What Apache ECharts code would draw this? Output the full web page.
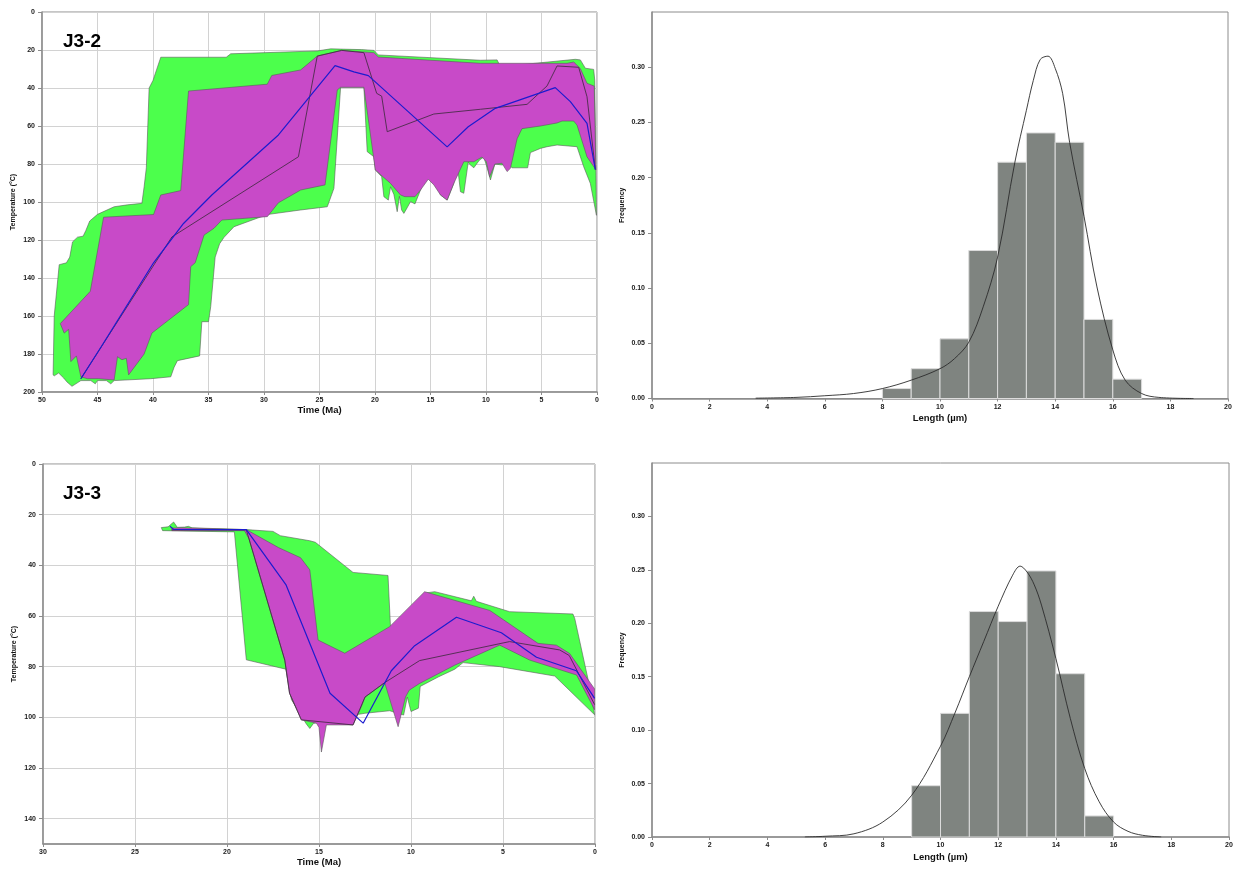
<!DOCTYPE html>
<html>
<head>
<meta charset="utf-8">
<title>Thermal history models and track length distributions</title>
<script src="https://cdn.jsdelivr.net/npm/echarts@6/dist/echarts.min.js"></script>
<style>
  html, body { margin: 0; padding: 0; background: #ffffff; }
  #chart { width: 1238px; height: 870px; }
</style>
</head>
<body>
<div id="chart"></div>
<script>
// ---------- Sample J3-2: time-temperature envelopes [time (Ma), temperature (°C)] ----------
const j32Acceptable = [
  [49.0, 191], [48.9, 160], [48.45, 133], [47.8, 132], [47.5, 129], [47.25, 121], [46.8, 118.5],
  [46.3, 118], [46.05, 115], [45.7, 110], [45.0, 106.5], [43.5, 102.5], [42.3, 101.5], [41.0, 100.7],
  [40.8, 92], [40.6, 82], [40.35, 40], [40.0, 36], [39.3, 23.8], [33.4, 23.8], [33.0, 22],
  [25.2, 20.5], [24.0, 19.4], [21.2, 19.8], [20.1, 20.2], [19.7, 22.6], [10.5, 25.4], [9.0, 25.2],
  [8.7, 28.8], [1.95, 24.9], [1.5, 25.2], [1.05, 29.6], [0.3, 30.2], [0.2, 36], [0.05, 107],
  [0.6, 90.2], [1.2, 81.4], [1.8, 70.9], [3.6, 70], [4.5, 70.9], [5.1, 71.8], [6.0, 74], [6.25, 82],
  [7.66, 82], [8.0, 80], [8.6, 80.5], [9.2, 80], [9.6, 88.4], [9.9, 82], [10.2, 76.3], [10.6, 78],
  [11.1, 82], [11.5, 80], [11.6, 79], [12.0, 95.4], [12.3, 94.6], [12.6, 79.6], [12.9, 90.2],
  [13.5, 99], [14.1, 96.3], [14.3, 90.2], [14.6, 76.2], [15.2, 76.2], [15.4, 86], [15.9, 93.7],
  [16.4, 101], [16.8, 99.8], [17.1, 103], [17.4, 106], [17.6, 104.2], [17.8, 97], [18.0, 105.1],
  [18.3, 96], [18.6, 92], [18.8, 99], [19.2, 97.2], [19.4, 86.7], [19.97, 83], [20.1, 76.2],
  [20.7, 73.5], [21.0, 39.6], [23.1, 39.6], [23.7, 92.8], [24.3, 102.5], [26.7, 104.2],
  [29.7, 106.6], [32.7, 113], [33.6, 118.6], [34.0, 122], [34.4, 129], [34.8, 155], [35.0, 163],
  [35.6, 163], [35.8, 181], [37.8, 183.5], [38.1, 187], [38.4, 192], [40.2, 193], [43.5, 194],
  [43.8, 195.7], [44.2, 194], [45.0, 194], [45.2, 195.7], [45.6, 194], [46.5, 194], [47.3, 197],
  [47.75, 194.7], [48.05, 192.6], [48.5, 190], [48.9, 191.5]
];
const j32Good = [
  [48.35, 164], [45.65, 147], [44.45, 108], [39.95, 106.6], [39.3, 96.3], [37.5, 94], [36.8, 41.6],
  [29.7, 38], [29.3, 33.4], [26.7, 30.5], [25.2, 23.2], [23.0, 20.2], [20.1, 21.4], [19.7, 23.7],
  [10.5, 27], [2.7, 27], [2.1, 26.3], [1.5, 29.8], [0.9, 37.5], [0.25, 39], [0.1, 83],
  [0.9, 76.2], [1.8, 59.5], [2.1, 57.4], [3.15, 57.4], [3.6, 58.4], [5.1, 60], [6.76, 61.4],
  [7.2, 66.7], [7.8, 82.3], [8.1, 84], [8.56, 79.6], [9.2, 80], [9.67, 86.7], [9.97, 78.8],
  [10.36, 76.3], [11.1, 78.8], [12.0, 78.8], [12.9, 90.2], [13.5, 99], [14.1, 96.3], [14.7, 91],
  [15.2, 88], [15.9, 93.7], [16.4, 97.2], [17.3, 97.2], [17.7, 96.3], [18.6, 90.2], [19.97, 83.2],
  [21.0, 39.6], [23.1, 39.6], [23.4, 41], [24.5, 91], [26.7, 93.7], [28.7, 100.4], [29.7, 107.7],
  [33.8, 109.5], [34.5, 113.8], [35.4, 117.4], [36.2, 132], [36.6, 134], [36.8, 154], [40.1, 169],
  [40.8, 180], [42.2, 191], [42.4, 182.3], [42.8, 183], [43.2, 181.4], [43.5, 193.7], [44.9, 193],
  [45.9, 193], [46.5, 192], [46.9, 181], [47.4, 184], [47.6, 167], [48.0, 169]
];
const j32BestFit = [
  [46.5, 193], [44.75, 177], [39.95, 132], [37.25, 111.3], [34.7, 96.3], [28.7, 64.7],
  [23.6, 28.2], [21.9, 31.5], [20.6, 33.5], [13.5, 71], [11.6, 60.4], [9.16, 50.7],
  [3.76, 39.8], [2.4, 47.2], [0.9, 58.6], [0.15, 83]
];
const j32WeightedMean = [
  [46.5, 193], [38.3, 118.4], [26.9, 76.2], [25.2, 23.2], [23.0, 20.2], [21.0, 21.4],
  [19.85, 42.8], [19.4, 44.3], [18.9, 63], [14.7, 53.7], [10.5, 51.2], [6.3, 48.6],
  [4.5, 38.9], [3.6, 28.4], [1.65, 29.1], [0.9, 44.6], [0.15, 83]
];

// ---------- Sample J3-3 ----------
const j33Acceptable = [
  [23.57, 25.1], [23.2, 24.8], [22.9, 22.9], [22.7, 25], [22.3, 24.9], [22.1, 24.6], [21.9, 25.2],
  [18.95, 25.9], [17.5, 26.6], [17.1, 28.3], [15.5, 30.3], [15.2, 30.9], [13.15, 42.8],
  [11.25, 44], [11.1, 66.5], [9.3, 51], [8.71, 50.4], [6.72, 54], [6.59, 52.2], [6.45, 54.2],
  [4.64, 58.3], [1.2, 59.2], [1.1, 61], [0.29, 87.9], [0.02, 99],
  [2.19, 83.7], [5.18, 80], [7.17, 78.4], [7.62, 81], [8.5, 84], [9.5, 87.8], [9.6, 96.4],
  [10.0, 97.7], [10.2, 92], [10.4, 99.1], [11.16, 97.4], [12.5, 98.4], [13.7, 99.8], [15.3, 102.4],
  [15.5, 104.4], [15.7, 102.5], [16.5, 93], [16.8, 81], [18.95, 77.3], [19.6, 26.8], [23.5, 26.3]
];
const j33Good = [
  [23.0, 25.3], [22.5, 25.2], [18.95, 25.9], [17.2, 33], [16.0, 37], [15.5, 41.8], [15.05, 69.5],
  [13.6, 74.7], [11.16, 64.2], [9.26, 50.4], [5.72, 57.8], [3.1, 70.8], [2.1, 71.5], [1.38, 74.8],
  [0.02, 88.8], [0.02, 97], [1.0, 83.3], [3.55, 77.4], [5.18, 71.5], [7.62, 79.4], [9.53, 86.6],
  [10.1, 89.3], [10.3, 92], [10.7, 103.7], [11.43, 86.3], [12.5, 92], [12.7, 95.8], [13.15, 103],
  [14.6, 103], [14.87, 113.7], [15.0, 104], [15.14, 102.3], [15.96, 101], [16.6, 90.5],
  [16.86, 77.4], [18.8, 29.6], [19.05, 26.3], [23.0, 26.3]
];
const j33BestFit = [
  [23.1, 24.6], [22.9, 25.8], [18.95, 25.9], [16.8, 47.6], [14.4, 90.5], [12.6, 102.3],
  [11.07, 81.6], [9.8, 71.7], [7.53, 60.5], [5.09, 66.6], [3.18, 76.3], [1.01, 81.6], [0.02, 92.5]
];
const j33WeightedMean = [
  [23.0, 26], [18.95, 26], [16.86, 77.4], [16.6, 90.5], [15.96, 101], [13.15, 103], [12.5, 92],
  [11.43, 86.3], [9.53, 77.6], [4.64, 70.1], [1.92, 73.4], [1.4, 75.6], [0.02, 95]
];

// ---------- Track length histograms (1 µm bins) and fitted curves ----------
const hist1BinStart = [8, 9, 10, 11, 12, 13, 14, 15, 16];
const hist1Freq     = [0.009, 0.027, 0.054, 0.134, 0.214, 0.2405, 0.232, 0.0716, 0.0175];
const hist1Curve = [
  [3.6, 0.0003], [5, 0.001], [6, 0.0025], [7, 0.0045], [8, 0.009], [9, 0.0166], [10, 0.027],
  [10.5, 0.036], [11, 0.051], [11.5, 0.083], [12, 0.128], [12.6, 0.214], [13, 0.261],
  [13.24, 0.288], [13.48, 0.307], [13.75, 0.310], [14, 0.299], [14.26, 0.276], [14.5, 0.232],
  [15, 0.165], [15.45, 0.101], [16, 0.044], [16.43, 0.0166], [17, 0.0045], [17.6, 0.001], [18.8, 0]
];
const hist2BinStart = [9, 10, 11, 12, 13, 14, 15];
const hist2Freq     = [0.048, 0.1157, 0.211, 0.2016, 0.249, 0.1528, 0.0197];
const hist2Curve = [
  [5.3, 0], [6, 0.0007], [7, 0.003], [8, 0.014], [9, 0.039], [10, 0.085], [10.5, 0.116],
  [11, 0.150], [11.5, 0.183], [12, 0.216], [12.5, 0.245], [12.76, 0.2535], [13, 0.248],
  [13.25, 0.236], [13.5, 0.217], [14, 0.167], [14.5, 0.111], [15, 0.064], [15.5, 0.033],
  [16, 0.014], [16.5, 0.0053], [17, 0.0016], [17.65, 0]
];

// Tick label values
const j32TempTicks = [0, 20, 40, 60, 80, 100, 120, 140, 160, 180, 200];
const j33TempTicks = [0, 20, 40, 60, 80, 100, 120, 140];
const freqTicks = [0, 0.05, 0.10, 0.15, 0.20, 0.25, 0.30];

const FONT = '"Liberation Sans", Arial, Helvetica, sans-serif';
const AXIS_GREY = '#8c8c8c';
const GRID_GREY = '#d2d2d2';
const GREEN = '#4cff4c';
const MAGENTA = '#c84ac8';

const labelStyle = { fontFamily: FONT, fontWeight: 'bold', fontSize: 7, color: '#1a1a1a' };

function timeAxis(gridIndex, maxT) {
  return {
    type: 'value', gridIndex, min: 0, max: maxT, interval: 5, inverse: true,
    name: 'Time (Ma)', nameLocation: 'middle', nameGap: 13,
    nameTextStyle: { fontFamily: FONT, fontWeight: 'bold', fontSize: 9.5, color: '#111' },
    axisLine: { show: true, onZero: false, lineStyle: { color: AXIS_GREY, width: 1.5 } },
    axisTick: { show: true, length: 3, lineStyle: { color: AXIS_GREY } },
    axisLabel: Object.assign({ margin: 5 }, labelStyle),
    splitLine: { show: true, lineStyle: { color: GRID_GREY, width: 1 } }
  };
}
function tempAxis(gridIndex, maxTemp, ticks) {
  return {
    type: 'value', gridIndex, min: 0, max: maxTemp, interval: 20, inverse: true,
    name: 'Temperature (°C)', nameLocation: 'middle', nameGap: 25, nameRotate: 90,
    nameTextStyle: { fontFamily: FONT, fontWeight: 'bold', fontSize: 7, color: '#111' },
    axisLine: { show: true, onZero: false, lineStyle: { color: AXIS_GREY, width: 1.5 } },
    axisTick: { show: true, length: 4, customValues: ticks, lineStyle: { color: AXIS_GREY } },
    axisLabel: Object.assign({ margin: 7, customValues: ticks }, labelStyle),
    splitLine: { show: true, lineStyle: { color: GRID_GREY, width: 1 } }
  };
}
function lengthAxis(gridIndex) {
  return {
    type: 'value', gridIndex, min: 0, max: 20, interval: 2,
    name: 'Length (µm)', nameLocation: 'middle', nameGap: 15,
    nameTextStyle: { fontFamily: FONT, fontWeight: 'bold', fontSize: 9.5, color: '#111' },
    axisLine: { show: true, onZero: false, lineStyle: { color: AXIS_GREY, width: 1.5 } },
    axisTick: { show: true, length: 3, lineStyle: { color: AXIS_GREY } },
    axisLabel: Object.assign({ margin: 5 }, labelStyle),
    splitLine: { show: false }
  };
}
function freqAxis(gridIndex) {
  return {
    type: 'value', gridIndex, min: 0, max: 0.35, interval: 0.05,
    name: 'Frequency', nameLocation: 'middle', nameGap: 26, nameRotate: 90,
    nameTextStyle: { fontFamily: FONT, fontWeight: 'bold', fontSize: 7, color: '#111' },
    axisLine: { show: true, onZero: false, lineStyle: { color: AXIS_GREY, width: 1.5 } },
    axisTick: { show: true, length: 4, customValues: freqTicks, lineStyle: { color: AXIS_GREY } },
    axisLabel: Object.assign({ margin: 7, customValues: freqTicks, formatter: v => v.toFixed(2) }, labelStyle),
    splitLine: { show: false }
  };
}

// Filled envelope drawn as one polygon through the axis scales
function envelope(axisIdx, pts, fill, z) {
  return {
    type: 'custom', xAxisIndex: axisIdx, yAxisIndex: axisIdx, z, silent: true, clip: true,
    data: [pts[0]],
    renderItem: (params, api) => ({
      type: 'polygon',
      shape: { points: pts.map(p => api.coord(p)) },
      style: { fill, stroke: '#5a5a5a', lineWidth: 0.6 }
    })
  };
}
function path(axisIdx, pts, color, width, z) {
  return {
    type: 'line', xAxisIndex: axisIdx, yAxisIndex: axisIdx, z, silent: true,
    data: pts, symbol: 'none', lineStyle: { color, width }
  };
}
function histogram(axisIdx, starts, freqs) {
  return {
    type: 'custom', xAxisIndex: axisIdx, yAxisIndex: axisIdx, z: 2, silent: true,
    data: starts.map((s, i) => [s, freqs[i]]),
    renderItem: (params, api) => {
      const x0 = api.value(0), f = api.value(1);
      const a = api.coord([x0, 0]);
      const b = api.coord([x0 + 1, f]);
      return {
        type: 'rect',
        shape: { x: a[0], y: b[1], width: b[0] - a[0], height: a[1] - b[1] },
        style: { fill: '#7f8480', stroke: '#dcdcdc', lineWidth: 1 }
      };
    }
  };
}
function curve(axisIdx, pts) {
  return {
    type: 'line', xAxisIndex: axisIdx, yAxisIndex: axisIdx, z: 5, silent: true,
    data: pts, smooth: 0.35, symbol: 'none', lineStyle: { color: '#2b2b2b', width: 0.9 }
  };
}

const gridBox = { show: true, borderColor: AXIS_GREY, borderWidth: 1, backgroundColor: 'transparent' };

const option = {
  animation: false,
  backgroundColor: '#ffffff',
  grid: [
    Object.assign({ left: 42, top: 12, width: 555, height: 380 }, gridBox),
    Object.assign({ left: 652, top: 12, width: 576, height: 386.5 }, gridBox),
    Object.assign({ left: 43, top: 464, width: 552, height: 380 }, gridBox),
    Object.assign({ left: 652, top: 463, width: 577, height: 374 }, gridBox)
  ],
  xAxis: [timeAxis(0, 50), lengthAxis(1), timeAxis(2, 30), lengthAxis(3)],
  yAxis: [tempAxis(0, 200, j32TempTicks), freqAxis(1), tempAxis(2, 150, j33TempTicks), freqAxis(3)],
  graphic: [
    { type: 'text', left: 63, top: 32, z: 100, style: { text: 'J3-2', fontFamily: FONT, fontWeight: 'bold', fontSize: 19, fill: '#000' } },
    { type: 'text', left: 63, top: 484, z: 100, style: { text: 'J3-3', fontFamily: FONT, fontWeight: 'bold', fontSize: 19, fill: '#000' } }
  ],
  series: [
    envelope(0, j32Acceptable, GREEN, 2),
    envelope(0, j32Good, MAGENTA, 3),
    path(0, j32WeightedMean, '#4a2c4a', 0.9, 4),
    path(0, j32BestFit, '#1c1ccf', 1.2, 5),
    histogram(1, hist1BinStart, hist1Freq),
    curve(1, hist1Curve),
    envelope(2, j33Acceptable, GREEN, 2),
    envelope(2, j33Good, MAGENTA, 3),
    path(2, j33WeightedMean, '#4a2c4a', 0.9, 4),
    path(2, j33BestFit, '#1c1ccf', 1.2, 5),
    histogram(3, hist2BinStart, hist2Freq),
    curve(3, hist2Curve)
  ]
};

const chart = echarts.init(document.getElementById('chart'), null, { renderer: 'canvas' });
chart.setOption(option);
</script>
</body>
</html>
